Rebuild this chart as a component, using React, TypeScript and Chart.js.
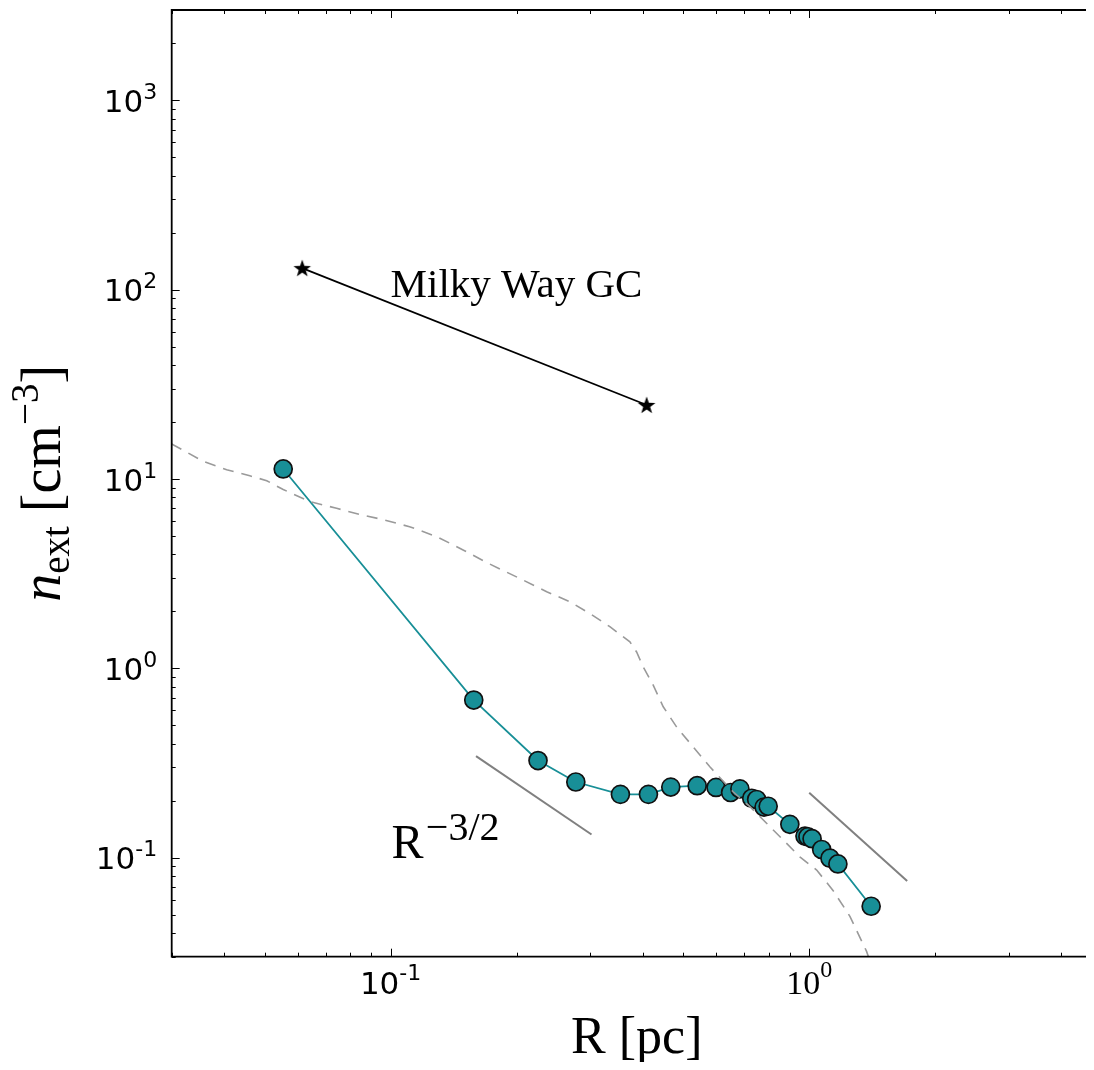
import React, { useEffect, useRef } from "react";
import { Chart, registerables } from "chart.js";

Chart.register(...registerables);

// ---- data ----
const radiusPc = [0.0554, 0.158, 0.225, 0.277, 0.354, 0.413, 0.467, 0.540, 0.599, 0.649, 0.683, 0.729, 0.749, 0.780, 0.798, 0.899, 0.977, 0.993, 1.016, 1.071, 1.121, 1.171, 1.406];
const densityExt = [11.3, 0.680, 0.326, 0.251, 0.216, 0.216, 0.236, 0.240, 0.235, 0.221, 0.231, 0.206, 0.203, 0.185, 0.187, 0.150, 0.130, 0.129, 0.126, 0.1105, 0.0994, 0.0927, 0.0554];

const mwRadius = [0.0615, 0.409];
const mwDensity = [130, 24.6];

const modelRadius = [0.03, 0.0357, 0.0406, 0.0461, 0.0506, 0.0554, 0.0642, 0.0743, 0.0845, 0.096, 0.111, 0.129, 0.149, 0.171, 0.207, 0.236, 0.268, 0.299, 0.334, 0.373, 0.387, 0.401, 0.424, 0.448, 0.482, 0.528, 0.579, 0.658, 0.722, 0.791, 0.867, 0.950, 1.042, 1.141, 1.251, 1.371, 1.40];
const modelDensity = [15.3, 12.4, 11.2, 10.4, 9.8, 8.8, 7.6, 7.0, 6.5, 6.1, 5.6, 4.96, 4.22, 3.59, 2.93, 2.54, 2.25, 1.95, 1.66, 1.38, 1.22, 1.02, 0.816, 0.627, 0.491, 0.385, 0.302, 0.223, 0.186, 0.152, 0.124, 0.101, 0.086, 0.067, 0.049, 0.032, 0.028];

const slope32Radius = [0.16, 0.302];
const slope32Density = [0.344, 0.1326];
const slope2Radius = [1.0, 1.714];
const slope2Density = [0.2201, 0.0754];

const xMajorTicks = [0.1, 1];
const xTickExp = ["-1", "0"];
const yMajorTicks = [0.1, 1, 10, 100, 1000];
const yTickExp = ["-1", "0", "1", "2", "3"];

// visible x range (the figure is cut at the right, so the right spine is not shown)
const xRange = [0.03, 4.79];
const yRange = [0.03, 3000];

const xLabel = "R [pc]";
const mwLabel = "Milky Way GC";
const mwLabelAt = { x: 0.1, y: 92 };
const slopeLabelAt = { x: 0.1, y: 0.1 };

const TEAL = "#188f97";

type Part = { text: string; font: string; dy?: number };

function drawParts(ctx: CanvasRenderingContext2D, parts: Part[], x: number, y: number, align: "left" | "center" | "right") {
  ctx.textBaseline = "alphabetic";
  ctx.textAlign = "left";
  const widths = parts.map((p) => {
    ctx.font = p.font;
    return ctx.measureText(p.text).width;
  });
  const total = widths.reduce((a, b) => a + b, 0);
  let cx = align === "left" ? x : align === "center" ? x - total / 2 : x - total;
  parts.forEach((p, i) => {
    ctx.font = p.font;
    ctx.fillText(p.text, cx, y + (p.dy || 0));
    cx += widths[i];
  });
}

function minorTicks(min: number, max: number): number[] {
  const out: number[] = [];
  for (let d = Math.floor(Math.log10(min)); d <= Math.ceil(Math.log10(max)); d++) {
    for (let k = 2; k <= 9; k++) {
      const v = k * Math.pow(10, d);
      if (v >= min && v <= max) out.push(v);
    }
  }
  return out;
}

const SERIF = "'Liberation Serif', 'Times New Roman', serif";
const SANS = "'DejaVu Sans', sans-serif";

const axesPlugin = {
  id: "mplAxes",
  afterDraw(chart: any) {
    const ctx: CanvasRenderingContext2D = chart.ctx;
    const { left, right, top, bottom } = chart.chartArea;
    const xs = chart.scales.x;
    const ys = chart.scales.y;
    ctx.save();
    ctx.strokeStyle = "#000";
    ctx.lineWidth = 1;
    ctx.beginPath();
    const xMinor = minorTicks(xs.min, xs.max);
    const yMinor = minorTicks(ys.min, ys.max);
    const xt = [...xMajorTicks.map((v) => [v, 8]), ...xMinor.map((v) => [v, 4])];
    xt.forEach(([v, len]) => {
      const px = Math.round(xs.getPixelForValue(v)) + 0.5;
      ctx.moveTo(px, bottom);
      ctx.lineTo(px, bottom - len);
      ctx.moveTo(px, top);
      ctx.lineTo(px, top + len);
    });
    const yt = [...yMajorTicks.map((v) => [v, 8]), ...yMinor.map((v) => [v, 4])];
    yt.forEach(([v, len]) => {
      const py = Math.round(ys.getPixelForValue(v)) + 0.5;
      ctx.moveTo(left, py);
      ctx.lineTo(left + len, py);
    });
    ctx.stroke();
    // spines: left, top, bottom (right one lies outside the picture)
    ctx.lineWidth = 1.8;
    ctx.beginPath();
    ctx.moveTo(right + 2, top);
    ctx.lineTo(left, top);
    ctx.lineTo(left, bottom);
    ctx.lineTo(right + 2, bottom);
    ctx.stroke();

    ctx.fillStyle = "#000";
    // x tick labels
    xMajorTicks.forEach((v, i) => {
      const px = xs.getPixelForValue(v);
      const isZero = xTickExp[i] === "0";
      const f = isZero ? SERIF : SANS;
      drawParts(
        ctx,
        [
          { text: "10", font: `${isZero ? 34 : 31}px ${f}` },
          { text: xTickExp[i], font: `${isZero ? 24 : 22}px ${f}`, dy: isZero ? -17 : -14 },
        ],
        px,
        bottom + 37.5,
        "center"
      );
    });
    // y tick labels
    yMajorTicks.forEach((v, i) => {
      const py = ys.getPixelForValue(v);
      drawParts(
        ctx,
        [
          { text: "10", font: `31px ${SANS}` },
          { text: yTickExp[i], font: `22px ${SANS}`, dy: -13 },
        ],
        left - 14.5,
        py + 11.5,
        "right"
      );
    });

    // x axis label (centred on the full axes, whose right end is off-picture)
    const fullRight = xs.getPixelForValue(5);
    drawParts(ctx, [{ text: xLabel, font: `52px ${SERIF}` }], (left + fullRight) / 2, bottom + 96, "center");

    // y axis label (rotated)
    ctx.save();
    ctx.translate(52, (top + bottom) / 2);
    ctx.rotate(-Math.PI / 2);
    drawParts(
      ctx,
      [
        { text: "n", font: `italic 56px ${SERIF}` },
        { text: "ext", font: `39px ${SERIF}`, dy: 9 },
        { text: " [cm", font: `56px ${SERIF}` },
        { text: "\u22123", font: `39px ${SERIF}`, dy: -22 },
        { text: "]", font: `56px ${SERIF}` },
      ],
      0,
      0,
      "center"
    );
    ctx.restore();

    // annotations
    drawParts(
      ctx,
      [{ text: mwLabel, font: `41px ${SERIF}` }],
      xs.getPixelForValue(mwLabelAt.x),
      ys.getPixelForValue(mwLabelAt.y),
      "left"
    );
    drawParts(
      ctx,
      [
        { text: "R", font: `48px ${SERIF}` },
        { text: " ", font: `9px ${SERIF}` },
        { text: "\u22123/2", font: `40px ${SERIF}`, dy: -18 },
      ],
      xs.getPixelForValue(slopeLabelAt.x) + 1,
      ys.getPixelForValue(slopeLabelAt.y),
      "left"
    );
    ctx.restore();
  },
};

function makeStar(): HTMLCanvasElement {
  const c = document.createElement("canvas");
  c.width = 20;
  c.height = 20;
  const g = c.getContext("2d")!;
  g.beginPath();
  const R = 9.2;
  const r = 3.7;
  for (let i = 0; i < 10; i++) {
    const a = -Math.PI / 2 + (i * Math.PI) / 5;
    const rr = i % 2 === 0 ? R : r;
    const px = 10 + rr * Math.cos(a);
    const py = 10.8 + rr * Math.sin(a);
    if (i === 0) g.moveTo(px, py);
    else g.lineTo(px, py);
  }
  g.closePath();
  g.fillStyle = "#000";
  g.fill();
  return c;
}

function pts(xs: number[], ys: number[]) {
  return xs.map((x, i) => ({ x, y: ys[i] }));
}

export default function App() {
  const ref = useRef<HTMLCanvasElement>(null);
  useEffect(() => {
    document.documentElement.style.overflow = "hidden";
    document.body.style.overflow = "hidden";
    if (!ref.current) return;
    const star = makeStar();
    const chart = new Chart(ref.current, {
      type: "scatter",
      data: {
        datasets: [
          {
            data: pts(modelRadius, modelDensity),
            showLine: true,
            borderColor: "#9a9a9a",
            borderWidth: 1.6,
            borderDash: [11, 8],
            pointRadius: 0,
            order: 1,
          },
          {
            data: pts(radiusPc, densityExt),
            showLine: true,
            borderColor: TEAL,
            borderWidth: 1.8,
            pointRadius: 9,
            pointBackgroundColor: TEAL,
            pointBorderColor: "#111",
            pointBorderWidth: 1.7,
            order: 2,
          },
          {
            data: pts(mwRadius, mwDensity),
            showLine: true,
            borderColor: "#000",
            borderWidth: 1.7,
            pointStyle: star as any,
            order: 3,
          },
          {
            data: pts(slope32Radius, slope32Density),
            showLine: true,
            borderColor: "#808080",
            borderWidth: 2,
            pointRadius: 0,
            order: 4,
          },
          {
            data: pts(slope2Radius, slope2Density),
            showLine: true,
            borderColor: "#808080",
            borderWidth: 2,
            pointRadius: 0,
            order: 4,
          },
        ],
      },
      options: {
        animation: false,
        responsive: false,
        maintainAspectRatio: false,
        events: [],
        layout: { autoPadding: false, padding: { left: 163.7, top: 2, right: 0, bottom: 105.3 } },
        plugins: { legend: { display: false }, tooltip: { enabled: false } },
        scales: {
          x: { type: "logarithmic", min: xRange[0], max: xRange[1], display: false },
          y: { type: "logarithmic", min: yRange[0], max: yRange[1], display: false },
        },
      },
      plugins: [axesPlugin],
    } as any);
    return () => chart.destroy();
  }, []);
  return (
    <div style={{ width: 1086, height: 1054, overflow: "hidden" }}>
      <canvas ref={ref} width={1086} height={1054} style={{ display: "block", width: 1086, height: 1054 }} />
    </div>
  );
}
